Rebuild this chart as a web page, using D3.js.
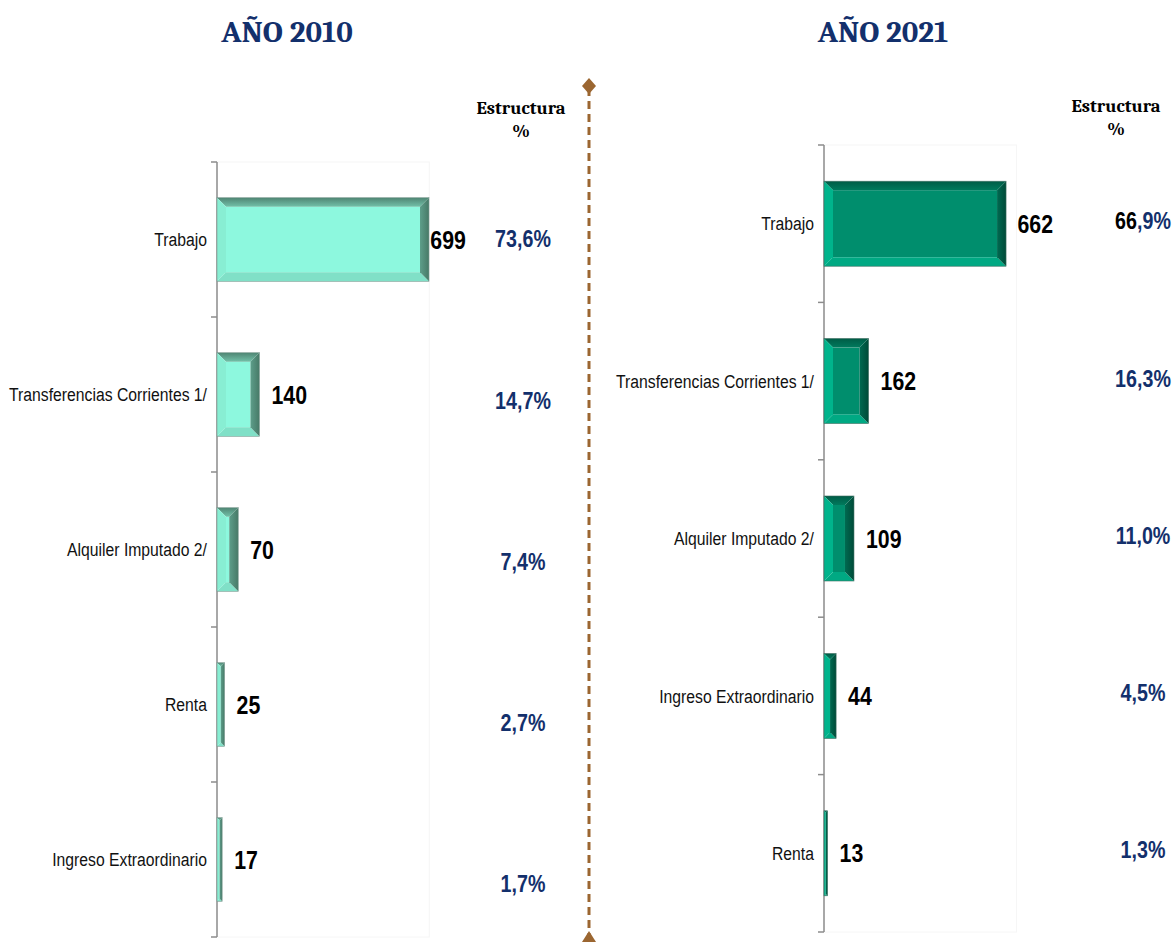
<!DOCTYPE html>
<html>
<head>
<meta charset="utf-8">
<script src="https://cdn.jsdelivr.net/npm/d3@7"></script>
<style>
  body { margin: 0; background: #fff; }
  svg { display: block; }
</style>
</head>
<body>
<div id="chart"></div>
<script>
// ------------------------------------------------------------
// Data
// ------------------------------------------------------------
const cats2010 = ["Trabajo", "Transferencias Corrientes 1/", "Alquiler Imputado 2/", "Renta", "Ingreso Extraordinario"];
const vals2010 = [699, 140, 70, 25, 17];
const pct2010 = ["73,6%", "14,7%", "7,4%", "2,7%", "1,7%"];

const cats2021 = ["Trabajo", "Transferencias Corrientes 1/", "Alquiler Imputado 2/", "Ingreso Extraordinario", "Renta"];
const vals2021 = [662, 162, 109, 44, 13];
const pct2021 = ["66,9%", "16,3%", "11,0%", "4,5%", "1,3%"];

const titles = ["AÑO 2010", "AÑO 2021"];
const xMax = 700;

const width = 1174, height = 942;
// no narrow font installed: squeeze Liberation Sans horizontally instead
const sans = "'Liberation Sans', Arial, sans-serif";
const squeeze = 0.82;
const serif = "Cambria, 'Liberation Serif', 'DejaVu Serif', serif";
const navy = "#13306c";

const svg = d3.select("#chart").append("svg")
  .attr("width", width)
  .attr("height", height);

// Bevel colour sets
const palettes = {
  light: { face: "#8df8de", top: ["#4f8573", "#72c0a8"], right: ["#5d9e8a", "#477967"], bottom: "#80e0c7", left: "#88eed3", stroke: "#7c9c92" },
  dark:  { face: "#008e6d", top: ["#005c46", "#007a5d"], right: ["#006a51", "#004a38"], bottom: "#00a983", left: "#00b48c", stroke: "#3f6f62" }
};

const defs = svg.append("defs");
Object.entries(palettes).forEach(([k, pal]) => {
  const gt = defs.append("linearGradient").attr("id", "top-" + k)
    .attr("x1", 0).attr("y1", 0).attr("x2", 0).attr("y2", 1);
  gt.append("stop").attr("offset", 0).attr("stop-color", pal.top[0]);
  gt.append("stop").attr("offset", 1).attr("stop-color", pal.top[1]);
  const gr = defs.append("linearGradient").attr("id", "right-" + k)
    .attr("x1", 0).attr("y1", 0).attr("x2", 1).attr("y2", 0);
  gr.append("stop").attr("offset", 0).attr("stop-color", pal.right[0]);
  gr.append("stop").attr("offset", 1).attr("stop-color", pal.right[1]);
});

// ------------------------------------------------------------
// Panel layout
// ------------------------------------------------------------
const panels = [
  { key: "light", title: titles[0], cats: cats2010, vals: vals2010, pct: pct2010,
    titleX: 287, axisX: 217, xEnd: 429.3, yRange: [162, 937],
    headX: 521, headY: 108, pctX: 523, pctRange: [239, 884], firstBlack: false },
  { key: "dark", title: titles[1], cats: cats2021, vals: vals2021, pct: pct2021,
    titleX: 883, axisX: 824, xEnd: 1016.5, yRange: [145, 932],
    headX: 1116, headY: 106, pctX: 1143, pctRange: [221, 850], firstBlack: true }
];

panels.forEach(drawPanel);

function drawPanel(p) {
  const g = svg.append("g");
  const pal = palettes[p.key];

  const x = d3.scaleLinear().domain([0, xMax]).range([p.axisX, p.xEnd]);
  const y = d3.scaleBand().domain(p.cats).range(p.yRange).paddingInner(0.46).paddingOuter(0.23);
  const yPct = d3.scalePoint().domain(p.cats).range(p.pctRange);
  const yMid = d => y(d) + y.bandwidth() / 2;

  // Title
  g.append("text")
    .attr("x", p.titleX)
    .attr("y", 42)
    .attr("text-anchor", "middle")
    .attr("font-family", serif)
    .attr("font-weight", "bold")
    .attr("font-size", 31)
    .attr("fill", navy)
    .text(p.title);

  // Faint plot area edge
  g.append("rect")
    .attr("x", p.axisX)
    .attr("y", p.yRange[0])
    .attr("width", p.xEnd - p.axisX)
    .attr("height", p.yRange[1] - p.yRange[0])
    .attr("fill", "none")
    .attr("stroke", "#f6f6f6");

  // Axis with ticks on category boundaries
  const bounds = d3.range(p.cats.length + 1).map(i => p.yRange[0] + i * y.step());
  g.append("line")
    .attr("x1", p.axisX).attr("x2", p.axisX)
    .attr("y1", p.yRange[0]).attr("y2", p.yRange[1])
    .attr("stroke", "#8c8c8c").attr("stroke-width", 1.5);
  g.selectAll(".tick")
    .data(bounds)
    .join("line")
    .attr("x1", p.axisX - 6).attr("x2", p.axisX)
    .attr("y1", d => d).attr("y2", d => d)
    .attr("stroke", "#8c8c8c").attr("stroke-width", 1.5);

  // Category labels
  g.selectAll(".cat")
    .data(p.cats)
    .join("text")
    .attr("transform", d => `translate(${p.axisX - 10},${yMid(d)}) scale(${squeeze},1)`)
    .attr("dy", "0.35em")
    .attr("text-anchor", "end")
    .attr("font-family", sans)
    .attr("font-size", 19.2)
    .attr("fill", "#111")
    .text(d => d);

  // Bevelled bars
  p.cats.forEach((c, i) => {
    const x0 = x(0), x1 = x(p.vals[i]);
    const y0 = y(c), y1 = y(c) + y.bandwidth();
    const w = x1 - x0, h = y1 - y0;
    const b = Math.min(9, w / 2, h / 2);
    const bar = g.append("g");
    const poly = (pts, fill) => bar.append("polygon")
      .attr("points", pts.map(q => q.join(",")).join(" "))
      .attr("fill", fill);
    bar.append("rect")
      .attr("x", x0 + b).attr("y", y0 + b)
      .attr("width", Math.max(0, w - 2 * b)).attr("height", Math.max(0, h - 2 * b))
      .attr("fill", pal.face);
    poly([[x0, y0], [x1, y0], [x1 - b, y0 + b], [x0 + b, y0 + b]], `url(#top-${p.key})`);
    poly([[x0, y1], [x1, y1], [x1 - b, y1 - b], [x0 + b, y1 - b]], pal.bottom);
    poly([[x0, y0], [x0 + b, y0 + b], [x0 + b, y1 - b], [x0, y1]], pal.left);
    poly([[x1, y0], [x1, y1], [x1 - b, y1 - b], [x1 - b, y0 + b]], `url(#right-${p.key})`);
    bar.append("rect")
      .attr("x", x0).attr("y", y0)
      .attr("width", w).attr("height", h)
      .attr("fill", "none")
      .attr("stroke", pal.stroke)
      .attr("stroke-width", 0.6);
  });

  // Value labels
  g.selectAll(".val")
    .data(p.cats)
    .join("text")
    .attr("transform", (d, i) => `translate(${Math.min(x(p.vals[i]) + 12, p.xEnd + 1)},${yMid(d)}) scale(${squeeze},1)`)
    .attr("dy", "0.35em")
    .attr("font-family", sans)
    .attr("font-weight", "bold")
    .attr("font-size", 26)
    .attr("fill", "#000")
    .text((d, i) => p.vals[i]);

  // "Estructura %" header
  const head = g.append("text")
    .attr("text-anchor", "middle")
    .attr("font-family", serif)
    .attr("font-weight", "bold")
    .attr("font-size", 18.5)
    .attr("fill", "#000");
  head.append("tspan").attr("x", p.headX).attr("y", p.headY + 6).text("Estructura");
  head.append("tspan").attr("x", p.headX).attr("y", p.headY + 29).text("%");

  // Percent column
  g.selectAll(".pct")
    .data(p.cats)
    .join("text")
    .attr("transform", d => `translate(${p.pctX},${yPct(d)}) scale(${squeeze},1)`)
    .attr("dy", "0.35em")
    .attr("text-anchor", "middle")
    .attr("font-family", sans)
    .attr("font-weight", "bold")
    .attr("font-size", 24)
    .attr("fill", navy)
    .each(function (d, i) {
      const t = d3.select(this);
      const s = p.pct[i];
      if (p.firstBlack && i === 0) {
        const k = s.indexOf(",");
        t.append("tspan").attr("fill", "#000").text(s.slice(0, k));
        t.append("tspan").text(s.slice(k));
      } else {
        t.text(s);
      }
    });
}

// ------------------------------------------------------------
// Dashed divider between the two panels
// ------------------------------------------------------------
const brown = "#9b6631";
const divX = 589;
svg.append("line")
  .attr("x1", divX).attr("x2", divX)
  .attr("y1", 88).attr("y2", 934)
  .attr("stroke", brown)
  .attr("stroke-width", 3)
  .attr("stroke-dasharray", "8,5");
svg.append("path")
  .attr("d", `M${divX},78 L${divX + 7},86 L${divX},94 L${divX - 7},86 Z`)
  .attr("fill", brown);
svg.append("path")
  .attr("d", `M${divX},931 L${divX + 7},942 L${divX - 7},942 Z`)
  .attr("fill", brown);
</script>
</body>
</html>
